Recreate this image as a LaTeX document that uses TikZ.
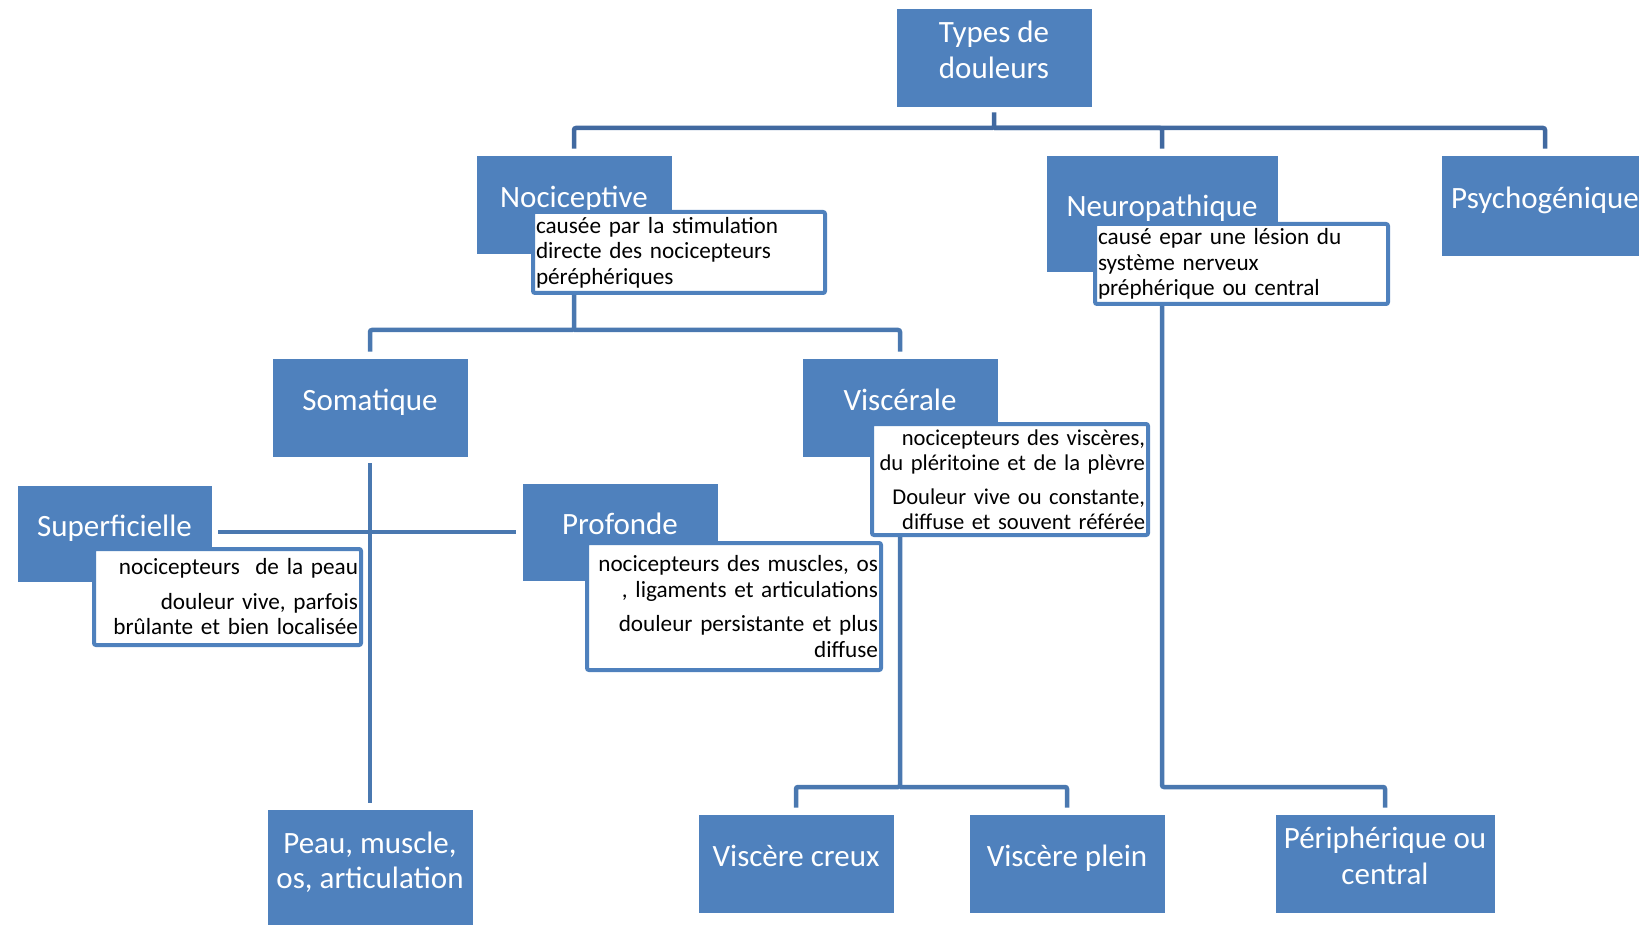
\documentclass[tikz,border=0pt]{standalone}
\usepackage{fontspec}
\setmainfont{Carlito}
\usetikzlibrary{positioning}
\definecolor{boxblue}{RGB}{79,129,189}
\definecolor{linkdark}{RGB}{65,105,160}
\definecolor{linkblue}{RGB}{74,120,176}
\newcommand{\boxfont}{\fontsize{31}{35.5}\selectfont}
\newcommand{\notefont}{\fontsize{23.2}{25.5}\selectfont}

\begin{document}
\begin{tikzpicture}[x=1pt,y=-1pt,
    box/.style={fill=boxblue,draw=white,line width=0.6pt,text=white,font=\boxfont,
        align=center,inner sep=2pt,execute at end node={\rule[-16pt]{0pt}{16pt}}},
    note/.style={draw=boxblue,line width=4pt,fill=white,rounded corners=2pt,
        font=\notefont,inner xsep=3pt,inner ysep=2pt},
    link/.style={draw=linkblue,line width=4.5pt,rounded corners=2pt,shorten >=6pt}]
\useasboundingbox (0,0) rectangle (1639,925);

\coordinate (topbus) at (0,128);
\coordinate (midbus) at (0,330);
\coordinate (lowbus) at (0,787);

\node[box,minimum width=196pt,minimum height=99pt] (types) at (994,57.5) {Types de\\douleurs};
\node[box,minimum width=196pt,minimum height=99pt] (noci) at (574,204.5) {Nociceptive};
\node[box,minimum width=232pt,minimum height=117pt] (neuro) at (1162,213.5) {Neuropathique};
\node[box,minimum width=208pt,minimum height=101pt] (psycho) at (1545,205.5) {Psychogénique};
\node[box,minimum width=196pt,minimum height=99pt] (soma) at (370,407.5) {Somatique};
\node[box,minimum width=196pt,minimum height=99pt] (visc) at (900,407.5) {Viscérale};
\node[box,minimum width=195pt,minimum height=97pt] (superf) at (114.5,533.5) {Superficielle};
\node[box,minimum width=196pt,minimum height=98pt] (prof) at (620,532) {Profonde};
\node[box,minimum width=206pt,minimum height=118pt] (peau) at (370,868) {Peau, muscle,\\os, articulation};
\node[box,minimum width=196pt,minimum height=99pt] (creux) at (796,863.5) {Viscère creux};
\node[box,minimum width=196pt,minimum height=99pt] (plein) at (1067,863.5) {Viscère plein};
\node[box,minimum width=220pt,minimum height=99pt] (periph) at (1385,863.5) {Périphérique ou\\central};

\node[note,align=left,text width=286pt,minimum height=81pt] (nocinote) at (679,252.5)
    {causée par la stimulation\\directe des nocicepteurs\\péréphériques};
\node[note,align=left,text width=287pt,minimum height=80pt] (neuronote) at (1241.5,264)
    {causé epar une lésion du\\système nerveux\\préphérique ou central};
\node[note,align=right,text width=270pt,minimum height=111pt,font=\fontsize{22.6}{25.5}\selectfont] (viscnote) at (1010,479.5)
    {\mbox{nocicepteurs des viscères,}\\\mbox{du pléritoine et de la plèvre}\\[8pt]%
     \mbox{Douleur vive ou constante,}\\\mbox{diffuse et souvent référée}};
\node[note,align=right,text width=261pt,minimum height=96pt] (superfnote) at (227.5,597)
    {\mbox{nocicepteurs~ de la peau}\\[9pt]\mbox{douleur vive, parfois}\\\mbox{brûlante et bien localisée}};
\node[note,align=right,text width=288pt,minimum height=127pt] (profnote) at (734,606.5)
    {\mbox{nocicepteurs des muscles, os}\\\mbox{, ligaments et articulations}\\[9pt]%
     \mbox{douleur persistante et plus}\\diffuse};

\draw[link,draw=linkdark,shorten <=5pt] (types.south) -- (types |- topbus) -| (noci.north);
\draw[link,draw=linkdark] (types |- topbus) -| (neuro.north);
\draw[link,draw=linkdark] (types |- topbus) -| (psycho.north);
\draw[link] (noci.center |- nocinote.south) -- (noci |- midbus) -| (soma.north);
\draw[link] (noci |- midbus) -| (visc.north);
\draw[link,shorten <=6pt] (soma.south) -- (peau.north);
\draw[link,shorten <=6pt] (superf.east |- prof.west) -- (prof.west);
\draw[link] (visc.center |- viscnote.south) -- (visc |- lowbus) -| (creux.north);
\draw[link] (visc |- lowbus) -| (plein.north);
\draw[link] (neuro.center |- neuronote.south) -- (neuro |- lowbus) -| (periph.north);
\end{tikzpicture}
\end{document}
